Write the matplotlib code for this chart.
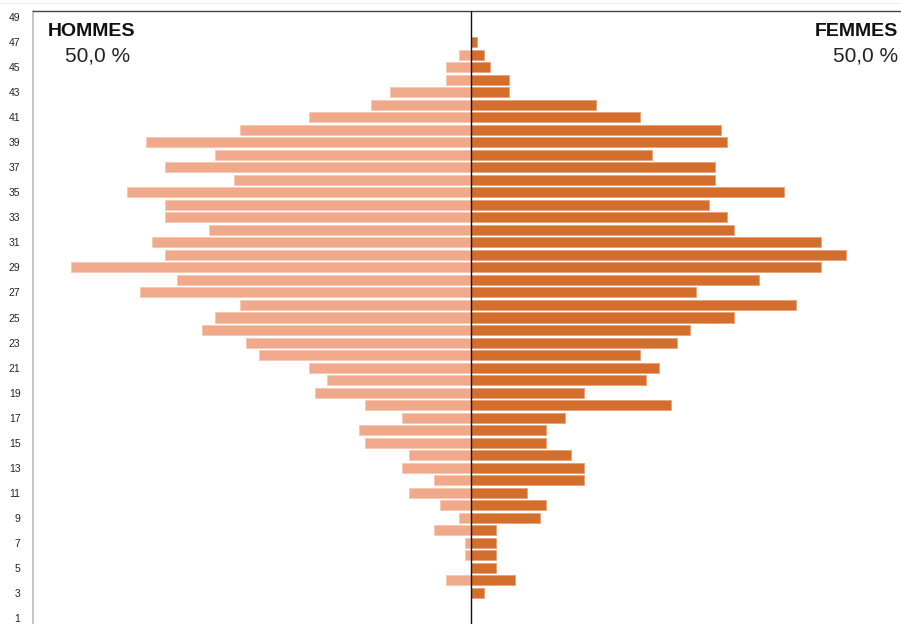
import matplotlib
matplotlib.use("Agg")
import matplotlib.pyplot as plt
from matplotlib.lines import Line2D

plt.rcParams['font.family'] = ['Liberation Sans', 'DejaVu Sans']

ages = list(range(3, 48))
# values listed from age 3 to age 47
hommes = [0, 4, 0, 1, 1, 6, 2, 5, 10, 6, 11, 10, 17, 18, 11, 17, 25, 23, 26, 34,
          36, 43, 41, 37, 53, 47, 64, 49, 51, 42, 49, 49, 55, 38, 49, 41, 52, 37,
          26, 16, 13, 4, 4, 2, 0]
femmes = [2, 7, 4, 4, 4, 4, 11, 12, 9, 18, 18, 16, 12, 12, 15, 32, 18, 28, 30, 27,
          33, 35, 42, 52, 36, 46, 56, 60, 56, 42, 41, 38, 50, 39, 39, 29, 41, 40,
          27, 20, 6, 6, 3, 2, 1]
tick_ages = list(range(1, 50, 2))

total = sum(hommes) + sum(femmes)
pct_h = 100 * sum(hommes) / total
pct_f = 100 * sum(femmes) / total

W, H = 901, 624
fig = plt.figure(figsize=(W / 100, H / 100), dpi=100)
ax = fig.add_axes([33 / W, 0, (W - 33) / W, 613 / H])

ax.barh(ages, [-v for v in hommes], height=0.8, color='#F0A98A',
        edgecolor='#F6C8B2', linewidth=0.6)
ax.barh(ages, femmes, height=0.8, color='#D36E2C',
        edgecolor='#E6A27A', linewidth=0.6)
ax.axvline(0, color='#111111', linewidth=1.0, zorder=5)

ax.set_xlim(-70.08, 68.8)
ax.set_ylim(0.5, 49.5)
ax.set_yticks(tick_ages)
ax.set_yticklabels([str(a) for a in tick_ages], fontsize=7.5, color='#222222')
ax.tick_params(axis='y', length=0, pad=9)
ax.set_xticks([])
for s in ['right', 'bottom']:
    ax.spines[s].set_visible(False)
ax.spines['top'].set_color('#444444')
ax.spines['top'].set_linewidth(1.0)
ax.spines['left'].set_color('#BBBBBB')
ax.spines['left'].set_linewidth(1.2)

fig.add_artist(Line2D([0, 1], [1 - 3 / H, 1 - 3 / H], color='#EEEEEE',
                      linewidth=1, transform=fig.transFigure))

def fmt(p):
    return f"{p:.1f}".replace('.', ',') + " %"

fig.text(48 / W, 1 - 36 / H, "HOMMES", fontsize=14, fontweight='bold',
         color='#111111', ha='left', va='baseline')
fig.text(130 / W, 1 - 62 / H, fmt(pct_h), fontsize=15, color='#222222',
         ha='right', va='baseline')
fig.text(898 / W, 1 - 36 / H, "FEMMES", fontsize=14, fontweight='bold',
         color='#111111', ha='right', va='baseline')
fig.text(898 / W, 1 - 62 / H, fmt(pct_f), fontsize=15, color='#222222',
         ha='right', va='baseline')

fig.savefig("out.png", dpi=100)
